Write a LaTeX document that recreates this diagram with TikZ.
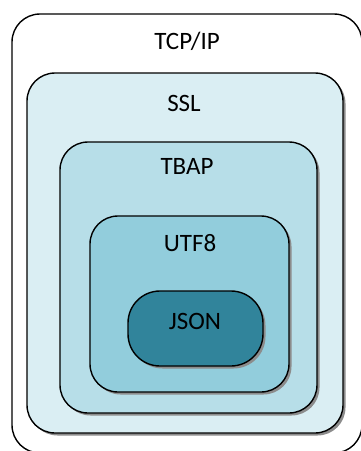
\documentclass[tikz,border=0pt]{standalone}
\usepackage{fontspec}
\setmainfont{Carlito}
\usetikzlibrary{shadows}
\definecolor{sslfill}{HTML}{DAEEF3}
\definecolor{tbapfill}{HTML}{B7DEE8}
\definecolor{utffill}{HTML}{92CDDC}
\definecolor{jsonfill}{HTML}{31849B}
\tikzset{
  layer/.style={draw=black, line width=1.4pt, rectangle, rounded corners=28pt, inner sep=0pt},
  shade/.style={drop shadow={shadow xshift=2.5pt, shadow yshift=-2.5pt, fill=black!45, opacity=1}},
  lbl/.style={font=\fontsize{25}{28}\selectfont, inner sep=0pt, text=black}
}
\begin{document}
\begin{tikzpicture}[x=1pt, y=-1pt]
  \useasboundingbox (0,0) rectangle (360,451);
  % nested protocol layers, outermost first
  \node (tcp) [layer, fill=white, minimum width=350pt, minimum height=439pt] at (187,233.5) {};
  \node (ssl) [layer, shade, fill=sslfill, minimum width=316pt, minimum height=360pt] at (185,253) {};
  \node (tbap) [layer, shade, fill=tbapfill, minimum width=257pt, minimum height=271pt] at (188.5,277.5) {};
  \node (utf) [layer, shade, fill=utffill, minimum width=199pt, minimum height=176pt] at (189.5,304) {};
  \node (json) [layer, shade, fill=jsonfill, rounded corners=32pt, minimum width=135pt, minimum height=75pt] at (195.5,328.5) {};
  % layer names
  \node (tcpl) [lbl] at (187,41) {TCP/IP};
  \node (ssll) [lbl] at (184,103) {SSL};
  \node (tbapl) [lbl] at (187,166) {TBAP};
  \node (utfl) [lbl] at (190,243) {UTF8};
  \node (jsonl) [lbl] at (195,321) {JSON};
\end{tikzpicture}
\end{document}
